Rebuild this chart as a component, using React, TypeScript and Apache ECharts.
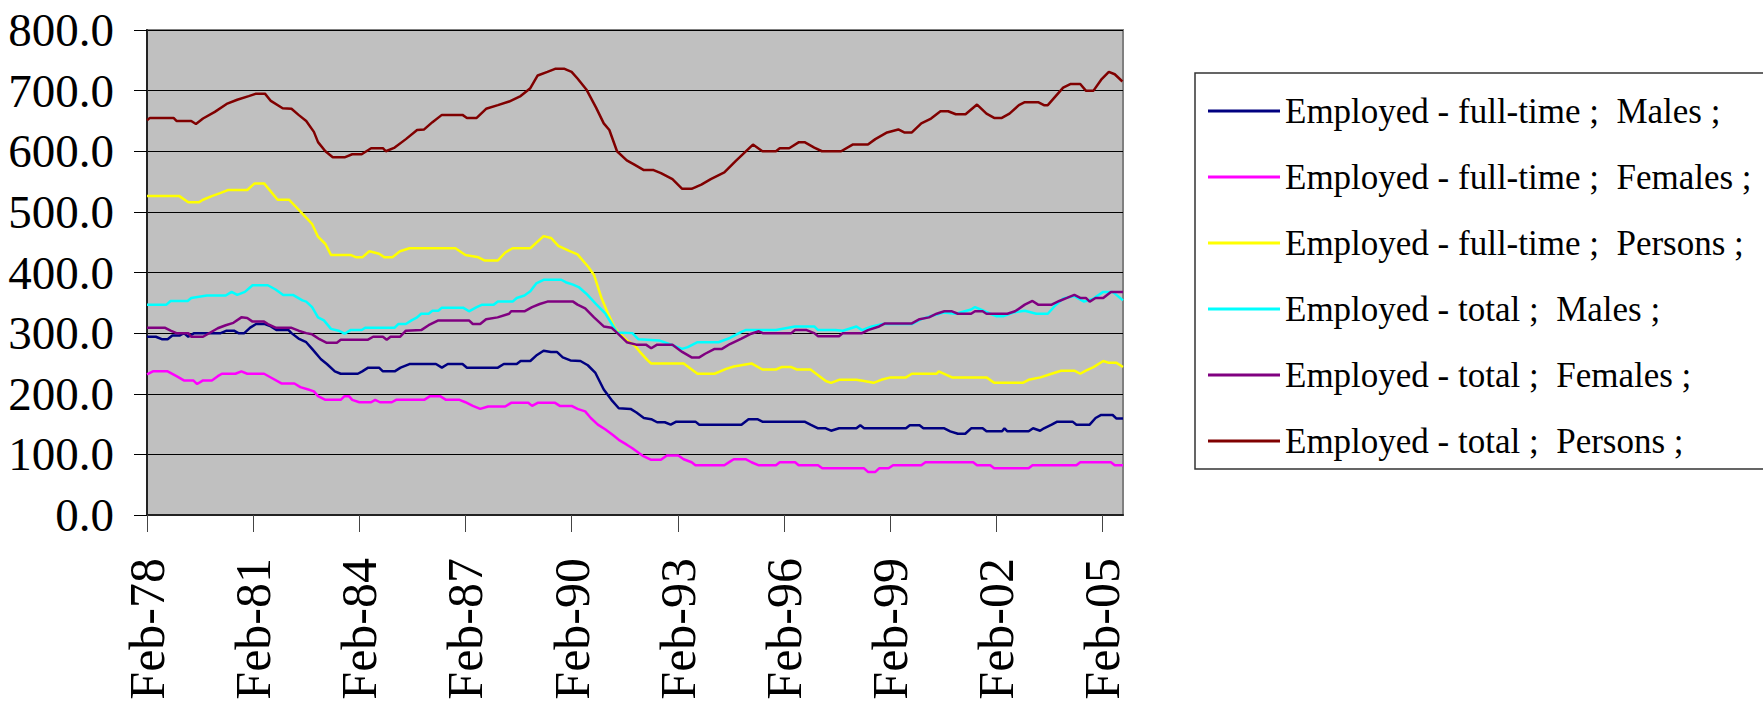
import React, { useEffect, useRef } from "react";
import * as echarts from "echarts";

// x = months since Feb-1978
const tickMonths = [0, 36, 72, 108, 144, 180, 216, 252, 288, 324];
const tickLabels = ["Feb-78", "Feb-81", "Feb-84", "Feb-87", "Feb-90", "Feb-93", "Feb-96", "Feb-99", "Feb-02", "Feb-05"];
const yTicks = [0, 100, 200, 300, 400, 500, 600, 700, 800];

const seriesNames = [
  "Employed - full-time ;  Males ;",
  "Employed - full-time ;  Females ;",
  "Employed - full-time ;  Persons ;",
  "Employed - total ;  Males ;",
  "Employed - total ;  Females ;",
  "Employed - total ;  Persons ;",
];
const seriesColors = ["#000080", "#FF00FF", "#FFFF00", "#00FFFF", "#800080", "#800000"];

const ftMales = [
  [0, 294], [3, 294], [5, 290], [7, 290], [8.6, 296], [11, 296], [12.5, 300], [14, 294], [16, 300], [25, 300],
  [27, 304], [29.5, 304], [31, 300], [33, 300], [35, 309], [37, 315], [40, 315], [42, 311], [44, 305], [48, 305],
  [49, 300], [51.4, 291], [54, 285], [56, 274], [59, 257], [61, 249], [63.7, 237], [65.7, 233], [71.5, 233], [73, 237],
  [75, 243], [78.7, 243], [80, 237], [84, 237], [86, 243], [89, 249], [98, 249], [100, 243], [102, 249], [107, 249],
  [108.5, 243], [119, 243], [121, 249], [125.4, 249], [126.7, 254], [130, 254], [132, 263], [134.5, 271], [137, 269], [139, 269],
  [141, 260], [143.6, 255], [147, 254], [149.5, 247], [152, 235], [154.9, 207], [157.5, 190], [160, 176], [164, 175], [166, 169],
  [168.5, 160], [171, 158], [173, 153], [175.6, 153], [177.6, 149], [179.5, 154], [186, 154], [187.3, 149], [201.6, 149], [204, 158],
  [207, 158], [208.7, 154], [223, 154], [225, 149], [227.6, 143], [230.2, 143], [232, 139], [234.7, 143], [240.6, 143], [241.9, 148],
  [243.2, 143], [257.4, 143], [258.7, 148], [262, 148], [263.3, 143], [270.4, 143], [272.4, 138], [275, 134], [277.5, 134], [279.5, 143],
  [283.4, 143], [284.7, 138], [290, 138], [290.8, 143], [291.8, 138], [299, 138], [300.5, 143], [302.9, 139], [304.2, 143], [306.8, 149],
  [308.7, 154], [313.9, 154], [315.2, 149], [319.7, 149], [321.7, 160], [323.6, 165], [327.5, 165], [328.8, 159], [331, 159],
];

const ftFemales = [
  [0, 232], [2, 237], [7, 237], [10, 229], [12.5, 222], [15.7, 222], [17, 216], [19, 222], [22, 222], [24, 229],
  [25.4, 233], [30, 233], [32, 237], [34, 233], [39.7, 233], [42.3, 226], [45.6, 217], [50, 217], [52, 211], [54.7, 207],
  [56.6, 204], [58, 196], [60.5, 190], [65.7, 190], [67, 196], [68.5, 196], [69.6, 190], [72, 186], [76, 186], [77.4, 190],
  [79, 186], [83, 186], [84.5, 190], [94, 190], [96, 196], [99.4, 196], [101.4, 190], [106, 190], [108, 186], [110.5, 180],
  [113, 175], [115.7, 179], [121.5, 179], [123.5, 185], [129.3, 185], [130.6, 180], [132.5, 185], [138.4, 185], [140, 180], [144, 180],
  [146, 175], [148.6, 171], [150.5, 160], [152.9, 149], [155.5, 141], [158, 132], [160, 124], [162.7, 116], [164.6, 110], [168, 98],
  [171, 91], [174.3, 91], [176.3, 98], [180.2, 98], [182, 92], [184.7, 87], [186, 82], [195.8, 82], [197.7, 88], [199, 92],
  [203, 92], [205, 87], [207.5, 82], [213.3, 82], [214.6, 87], [219.8, 87], [221, 82], [227.6, 82], [229, 77], [243.2, 77],
  [244.5, 71], [247, 71], [248.3, 77], [251.5, 77], [253, 82], [262.6, 82], [264, 87], [280.2, 87], [281.5, 82], [286, 82],
  [287.3, 77], [299, 77], [300.3, 82], [315.2, 82], [316.5, 87], [326.9, 87], [328.2, 82], [331, 82],
];

const ftPersons = [
  [0, 526], [11, 526], [14, 516], [17.7, 516], [19, 520], [22, 526], [24.8, 531], [27.4, 536], [34, 536], [36.5, 547],
  [39.7, 547], [44.3, 520], [48.2, 520], [52.7, 497], [56, 480], [58, 459], [60.5, 447], [62.4, 429], [69, 429], [71, 425],
  [73, 425], [75.4, 435], [78.7, 431], [80.6, 425], [83.2, 425], [85.8, 435], [89, 440], [104.6, 440], [108, 429], [112.4, 425],
  [114.4, 420], [119, 420], [121.5, 433], [124, 440], [130, 440], [134.5, 460], [137, 457], [139.5, 444], [143, 436], [146, 430],
  [149.7, 409], [151.6, 396], [154.2, 357], [156.2, 334], [158.8, 307], [162.7, 288], [165.3, 280], [167, 270], [169.8, 255], [171, 250],
  [182, 250], [186.7, 233], [192.5, 233], [196.4, 241], [199, 245], [205, 250], [208.7, 240], [213.3, 240], [215.2, 244], [218.5, 244],
  [220.4, 240], [225, 240], [230.2, 221], [232, 218], [234.7, 223], [240.6, 223], [243.2, 221], [246.4, 218], [249, 223], [252.2, 227],
  [257.4, 227], [259.4, 233], [267.8, 233], [268.5, 237], [273, 227], [284.7, 227], [287.3, 218], [297, 218], [299, 223], [303, 227],
  [306.8, 233], [310, 238], [314.5, 238], [316.5, 233], [318.4, 238], [321, 244], [324.3, 254], [326.2, 251], [328.8, 251], [331, 244],
];

const totMales = [
  [0, 347], [6.6, 347], [8, 353], [13.8, 353], [15, 358], [20.3, 362], [26.7, 362], [28.7, 368], [30.6, 363], [33.2, 368],
  [35.8, 379], [41, 379], [43.6, 372], [46.2, 363], [49.5, 363], [52.7, 354], [54, 352], [56, 343], [58, 326], [60, 321],
  [62.4, 307], [65, 304], [67, 299], [69, 305], [72.8, 305], [74, 309], [84, 309], [85.2, 315], [87.8, 315], [89.7, 321],
  [91.6, 326], [93, 332], [95.5, 332], [96.8, 337], [98.8, 337], [100, 342], [107.2, 342], [109.2, 336], [111.8, 343], [113.7, 347],
  [117.6, 347], [119, 352], [124, 352], [125.4, 358], [128, 362], [130, 369], [132, 382], [134.5, 388], [140.5, 388], [142, 384],
  [144.5, 380], [146.4, 376], [149, 365], [152.3, 348], [155.5, 332], [159.4, 301], [164.6, 300], [166.6, 290], [173.7, 288], [178.2, 280],
  [181.5, 274], [183.4, 277], [186.7, 285], [193.8, 285], [197.7, 292], [201.6, 302], [203, 305], [213.3, 305], [219.8, 311], [226.3, 311],
  [227.6, 305], [233.4, 305], [236, 304], [240.6, 311], [242.5, 305], [245.8, 311], [249.6, 315], [259.4, 315], [262.6, 323], [266.5, 329],
  [270.2, 334], [274.3, 332], [279.5, 339], [280.8, 343], [282.7, 339], [286, 332], [288, 328], [290.5, 328], [293.8, 334], [297.7, 337],
  [301.6, 332], [305.5, 332], [308.1, 346], [310.7, 357], [314.5, 361], [317.8, 352], [321, 357], [324.3, 368], [327.5, 368], [331, 354],
];

const totFemales = [
  [0, 309], [6, 309], [8, 304], [10, 300], [14, 300], [15, 294], [19, 294], [21.5, 301], [24, 308], [26.7, 313],
  [29.3, 317], [32, 326], [34, 325], [35.8, 319], [39.7, 319], [41, 315], [43.6, 309], [48.8, 309], [51.4, 304], [54, 300],
  [56, 298], [58.5, 290], [61, 284], [64.4, 284], [65.7, 289], [74.8, 289], [76.7, 294], [80, 294], [81.3, 289], [82.6, 294],
  [85.8, 294], [87.8, 304], [93, 305], [95.5, 313], [98.8, 321], [109.2, 321], [110.5, 315], [113, 315], [115, 323], [118.9, 326],
  [122.8, 332], [123.5, 336], [128, 336], [130.6, 343], [133.2, 348], [135.8, 352], [144.5, 352], [146, 347], [148.6, 341], [151.6, 326],
  [154.9, 311], [157.5, 309], [160, 298], [162.7, 285], [165.9, 281], [169.2, 281], [171, 275], [173, 281], [178.2, 281], [181.5, 269],
  [184.7, 260], [187.3, 260], [189.3, 266], [192.5, 274], [195, 274], [197.7, 282], [201.6, 291], [204.9, 299], [207.5, 303], [208.8, 300],
  [218.5, 300], [219.8, 305], [223.7, 305], [226.3, 300], [227.6, 295], [234.7, 295], [236, 300], [242.5, 300], [244.5, 305], [248.3, 311],
  [250.3, 316], [259.4, 316], [262, 323], [265.2, 326], [267.8, 332], [270.4, 336], [273, 336], [275, 332], [279.5, 332], [280.8, 336],
  [283.4, 336], [284.7, 332], [291.8, 332], [294.4, 336], [297.7, 347], [300.3, 353], [302.2, 347], [306.8, 347], [309.4, 353], [312, 358],
  [314.5, 363], [316.5, 358], [318.4, 358], [319.7, 352], [321.7, 358], [324.3, 358], [326.9, 368], [331, 368],
];

const totPersons = [
  [0, 651], [1, 655], [9, 655], [10, 650], [15, 650], [16.6, 645], [19, 654], [23, 665], [27, 678], [30.6, 685],
  [34.5, 691], [37, 695], [40, 695], [42, 683], [46, 671], [49, 670], [51.4, 660], [54, 650], [56.6, 632], [58, 615],
  [60.5, 600], [63, 590], [67, 590], [69.6, 595], [72.8, 595], [76, 605], [80, 605], [81, 600], [84, 606], [87.8, 620],
  [91.6, 635], [94, 636], [96.8, 648], [100, 660], [107, 660], [108.5, 655], [111.8, 655], [115, 670], [119, 676], [122.8, 682],
  [126.7, 691], [130, 704], [132.5, 725], [135.8, 731], [138.4, 736], [141.6, 736], [144, 731], [146, 720], [149, 702], [152.3, 672],
  [154.9, 646], [156.8, 635], [159.4, 600], [162.7, 585], [165.3, 578], [168.5, 569], [171.8, 569], [174.3, 564], [178.2, 554], [181.5, 538],
  [184.7, 538], [188, 545], [191.2, 554], [195.8, 565], [199.7, 584], [205.5, 611], [208.7, 600], [213.3, 600], [214.6, 605], [217.8, 605],
  [221.1, 615], [223, 615], [226.3, 606], [228.9, 600], [235.4, 600], [239.3, 611], [244.5, 611], [247, 620], [251, 631], [254.8, 636],
  [256.8, 631], [259.4, 631], [262.6, 646], [265.9, 654], [269.1, 666], [271.7, 666], [274.3, 661], [277.6, 661], [281.5, 677], [284.7, 662],
  [287.3, 655], [289.9, 655], [292.5, 662], [295.7, 676], [297.7, 681], [302.2, 681], [304.2, 676], [305.5, 676], [310.7, 705], [313.3, 711],
  [316.5, 711], [318.4, 700], [321, 700], [323.6, 718], [326.2, 731], [328.2, 727], [330.8, 715],
];

const seriesData = [ftMales, ftFemales, ftPersons, totMales, totFemales, totPersons];

const FONT = "Liberation Serif";

export default function App() {
  const ref = useRef<HTMLDivElement>(null);

  useEffect(() => {
    if (!ref.current) return;
    const chart = echarts.init(ref.current, undefined, { renderer: "svg" });
    chart.setOption({
      animation: false,
      backgroundColor: "#ffffff",
      textStyle: { fontFamily: FONT, color: "#000" },
      grid: {
        left: 147,
        top: 30,
        right: 640,
        bottom: 188,
        show: true,
        backgroundColor: "#C0C0C0",
        borderColor: "#808080",
        borderWidth: 2,
      },
      xAxis: {
        type: "value",
        min: 0,
        max: 331,
        interval: 36,
        axisLine: { show: true, onZero: false, lineStyle: { color: "#222", width: 2 } },
        axisTick: { show: true, length: 17, customValues: tickMonths, lineStyle: { color: "#444", width: 1 } },
        splitLine: { show: false },
        axisLabel: {
          customValues: tickMonths,
          rotate: 90,
          margin: 43,
          fontSize: 50,
          fontFamily: FONT,
          color: "#000",
          formatter: (v: number) => {
            const i = tickMonths.indexOf(Math.round(v));
            return i >= 0 ? tickLabels[i] : "";
          },
        },
      },
      yAxis: {
        type: "value",
        min: 0,
        max: 800,
        interval: 100,
        axisLine: { show: true, lineStyle: { color: "#222", width: 2 } },
        axisTick: { show: true, length: 13, lineStyle: { color: "#000", width: 1 } },
        splitLine: { show: true, lineStyle: { color: "#000", width: 1 } },
        axisLabel: {
          margin: 33,
          fontSize: 47,
          fontFamily: FONT,
          color: "#000",
          formatter: (v: number) => (yTicks.includes(v) ? v.toFixed(1) : ""),
        },
      },
      legend: {
        orient: "vertical",
        left: 1208,
        top: 91,
        padding: 0,
        icon: "rect",
        itemWidth: 72,
        itemHeight: 3,
        itemGap: 26,
        selectedMode: false,
        textStyle: { fontSize: 35, fontFamily: FONT, color: "#000", lineHeight: 40 },
        data: seriesNames,
      },
      graphic: [
        {
          type: "rect",
          z: 0,
          shape: { x: 1195, y: 73, width: 700, height: 396 },
          style: { fill: "none", stroke: "#333", lineWidth: 1.5 },
        },
      ],
      series: seriesNames.map((name, i) => ({
        name,
        type: "line",
        data: seriesData[i],
        symbol: "none",
        showSymbol: false,
        color: seriesColors[i],
        itemStyle: { color: seriesColors[i] },
        lineStyle: { color: seriesColors[i], width: 2.5 },
        z: 2 + i,
      })),
    });
    return () => chart.dispose();
  }, []);

  return (
    <div
      ref={ref}
      style={{ position: "fixed", left: 0, top: 0, width: 1763, height: 703, background: "#fff" }}
    />
  );
}
